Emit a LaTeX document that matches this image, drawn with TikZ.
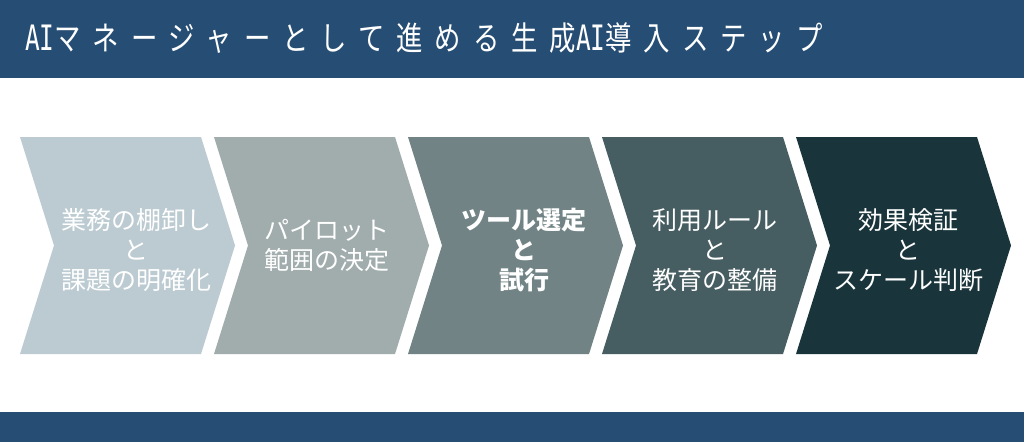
\documentclass[tikz,border=0pt]{standalone}
\usepackage{fontspec}
\usepackage{xcolor}
\usetikzlibrary{positioning}
\newfontfamily\jpfont{Noto Sans CJK JP}
\newfontfamily\titlefont[FakeStretch=0.8, LetterSpace=36]{Noto Sans CJK JP}
\newfontfamily\titlemono[FakeStretch=0.7]{DejaVu Sans Mono}
\definecolor{bandblue}{HTML}{264D73}
\definecolor{stepone}{HTML}{BCCBD1}
\definecolor{steptwo}{HTML}{A1ACAD}
\definecolor{stepthree}{HTML}{718385}
\definecolor{stepfour}{HTML}{465D61}
\definecolor{stepfive}{HTML}{19353B}
\tikzset{
  steptext/.style={text=white, align=center, inner sep=0pt, font=\jpfont\fontsize{25}{30}\selectfont},
}

\begin{document}
\begin{tikzpicture}[x=1pt, y=-1pt]
    \useasboundingbox (0, 0) rectangle (1024, 442);
    \fill[white] (0, 0) rectangle (1024, 442);
    % bands
    \fill[bandblue] (0, 0) rectangle (1024, 78);
    \fill[bandblue] (0, 412) rectangle (1024, 442);
    \node[anchor=base west, inner sep=0pt, text=white] (title) at (25, 50)
        {{\titlemono\fontsize{35}{35}\selectfont AI}{\titlefont\fontsize{33}{33}\selectfont マネージャーとして進める生成}{\titlemono\fontsize{35}{35}\selectfont AI}{\titlefont\fontsize{33}{33}\selectfont 導入ステップ}};
    % chevrons
    \fill[stepone]
    (20, 137) -- (201, 137) -- (235, 245.5) -- (201, 354) -- (20, 354) -- (54, 245.5) -- cycle;
    \fill[steptwo]
    (214, 137) -- (395, 137) -- (429, 245.5) -- (395, 354) -- (214, 354) -- (248, 245.5) -- cycle;
    \fill[stepthree]
    (408, 137) -- (589, 137) -- (623, 245.5) -- (589, 354) -- (408, 354) -- (442, 245.5) -- cycle;
    \fill[stepfour]
    (602, 137) -- (783, 137) -- (817, 245.5) -- (783, 354) -- (602, 354) -- (636, 245.5) -- cycle;
    \fill[stepfive]
    (796, 137) -- (977, 137) -- (1011, 245.5) -- (977, 354) -- (796, 354) -- (830, 245.5) -- cycle;
    % labels
    \node[steptext] (inventory) at (136, 250) {業務の棚卸し\\と\\課題の明確化};
    \node[steptext] (pilot) at (327, 245) {パイロット\\範囲の決定};
    \node[steptext, font=\jpfont\bfseries\fontsize{25}{30}\selectfont] (trial) at (524, 250) {ツール選定\\と\\試行};
    \node[steptext] (rules) at (715, 250) {利用ルール\\と\\教育の整備};
    \node[steptext] (scale) at (908, 250) {効果検証\\と\\スケール判断};
\end{tikzpicture}
\end{document}
